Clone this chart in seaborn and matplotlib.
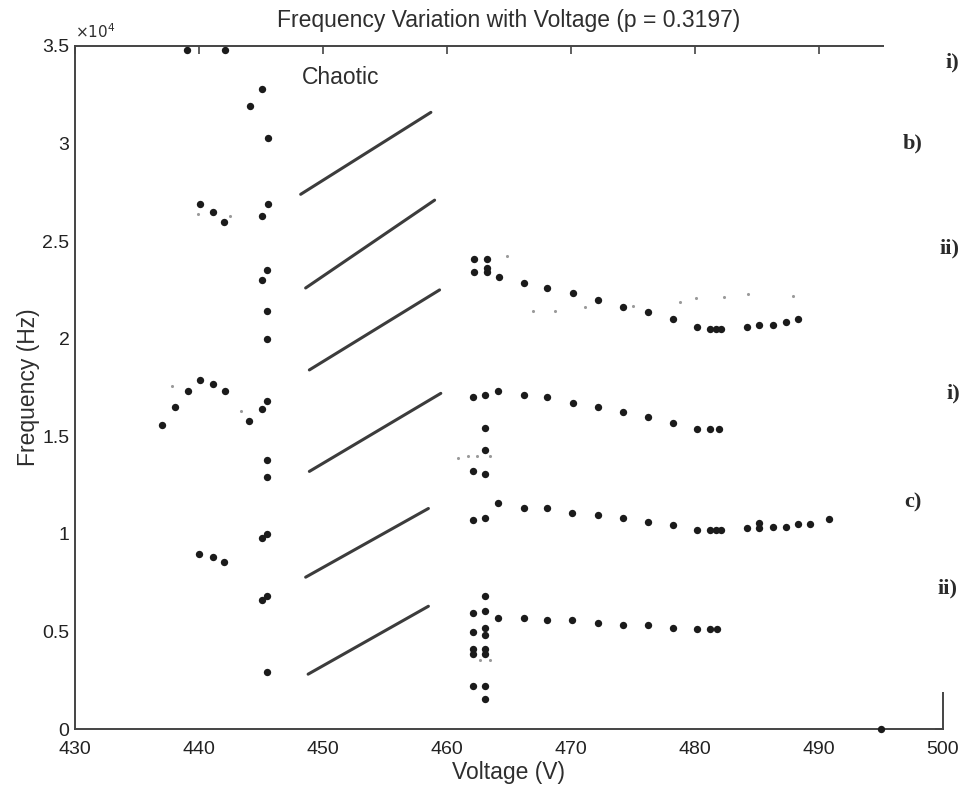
import matplotlib
matplotlib.use("Agg")
import matplotlib.pyplot as plt
from matplotlib.patches import Rectangle
import seaborn as sns
import pandas as pd

# ---- data ----
# main (large) dots: voltage (V), frequency (Hz)
volt_dots = [
    439.0, 442.1, 445.1, 444.1, 445.6,
    440.1, 441.1, 442.0, 445.6, 445.1,
    445.5, 445.1, 445.5, 445.5,
    437.0, 438.1, 439.1, 440.1, 441.1, 442.1,
    444.0, 445.1, 445.5, 445.5, 445.5,
    445.1, 445.5, 440.0, 441.1, 442.0,
    445.1, 445.5, 445.5,
    # upper branch after chaos
    462.2, 463.2, 462.2, 463.2, 463.2, 464.2, 466.2, 468.1, 470.2, 472.2,
    474.2, 476.2, 478.2, 480.2, 481.2, 481.7, 482.1, 484.2, 485.2, 486.3,
    487.3, 488.3,
    # second branch
    462.1, 463.1, 464.1, 466.2, 468.1, 470.2, 472.2, 474.2, 476.2, 478.2,
    480.2, 481.2, 481.9, 463.1, 463.1, 462.1, 463.1,
    # third branch
    462.1, 463.1, 464.1, 466.2, 468.1, 470.1, 472.2, 474.2, 476.2, 478.2,
    480.2, 481.2, 481.7, 482.1, 484.2, 485.2, 485.2, 486.3, 487.3, 488.3,
    489.3, 490.8,
    # lowest branch
    463.1, 462.1, 463.1, 464.1, 466.2, 468.1, 470.1, 472.2, 474.2, 476.2,
    478.2, 480.2, 481.2, 481.8, 462.1, 463.1, 463.1, 462.1, 462.1, 463.1,
    463.1, 462.1, 463.1, 463.1,
    495.0,
]
freq_dots = [
    34800, 34800, 32800, 31900, 30300,
    26900, 26500, 26000, 26900, 26300,
    23500, 23000, 21400, 20000,
    15600, 16500, 17300, 17900, 17700, 17300,
    15800, 16400, 16800, 13800, 12900,
    9800, 10000, 8960, 8800, 8560,
    6600, 6800, 2930,
    24100, 24100, 23400, 23600, 23400, 23150, 22850, 22600, 22360, 22000,
    21600, 21360, 21000, 20600, 20500, 20500, 20500, 20600, 20700, 20700,
    20850, 21000,
    17000, 17100, 17300, 17100, 17000, 16700, 16500, 16250, 16000, 15700,
    15350, 15350, 15350, 15400, 14300, 13200, 13050,
    10700, 10800, 11600, 11300, 11300, 11080, 10950, 10800, 10600, 10450,
    10200, 10200, 10200, 10200, 10300, 10550, 10300, 10350, 10350, 10500,
    10500, 10750,
    6800, 5950, 6060, 5700, 5700, 5580, 5580, 5450, 5330, 5330,
    5200, 5100, 5100, 5100, 4960, 5180, 4800, 4100, 3860, 4100,
    3860, 2200, 2200, 1560,
    0,
]

# faint small dots
volt_faint = [437.8, 439.9, 442.5, 443.4, 464.8, 466.9, 468.7, 471.1, 475.0,
              478.8, 480.1, 482.3, 484.3, 487.9, 460.9, 461.7, 462.4, 463.5,
              462.7, 463.5]
freq_faint = [17600, 26400, 26300, 16300, 24250, 21400, 21400, 21600, 21700,
              21900, 22100, 22150, 22300, 22200, 13900, 14000, 14000, 14000,
              3530, 3530]

# "chaotic" region segments
chaos_v0 = [448.2, 448.6, 448.9, 448.9, 448.6, 448.8]
chaos_v1 = [458.7, 459.0, 459.4, 459.5, 458.5, 458.5]
chaos_f0 = [27400, 22600, 18400, 13200, 7780, 2810]
chaos_f1 = [31600, 27100, 22500, 17200, 11300, 6290]

x_ticks = [430, 440, 450, 460, 470, 480, 490, 500]
y_ticks = [0, 5000, 10000, 15000, 20000, 25000, 30000, 35000]
y_labels = ["0", "0.5", "1", "1.5", "2", "2.5", "3", "3.5"]

# right-hand annotations (figure pixel positions)
notes = ["i)", "b)", "ii)", "i)", "c)", "ii)"]
notes_xy = [(952, 62), (913, 143), (950, 248), (953, 393), (913, 502), (948, 588)]

sns.set_theme(style="white")
plt.rcParams["font.family"] = ["Liberation Sans", "DejaVu Sans"]

W, H = 965, 786
fig = plt.figure(figsize=(W / 100, H / 100), dpi=100)
ax = fig.add_axes([75 / W, 1 - 729 / H, (943 - 75) / W, (729 - 46) / H])

ink = "#1b1b1b"
txt_col = "#2e2e2e"
dots = pd.DataFrame({"volt": volt_dots, "freq": freq_dots})
faint = pd.DataFrame({"volt": volt_faint, "freq": freq_faint})

sns.scatterplot(data=faint, x="volt", y="freq", ax=ax, s=5, color="#9a9a9a",
                linewidth=0, legend=False, clip_on=False)
sns.scatterplot(data=dots, x="volt", y="freq", ax=ax, s=28, color=ink,
                linewidth=0, legend=False, clip_on=False, zorder=3)

for v0, v1, f0, f1 in zip(chaos_v0, chaos_v1, chaos_f0, chaos_f1):
    ax.plot([v0, v1], [f0, f1], color="#3c3c3c", lw=2.2, solid_capstyle="round")

ax.text(448.3, 33400, "Chaotic", fontsize=16.5, color=txt_col, va="center")

ax.set_xlim(430, 500)
ax.set_ylim(0, 35000)
ax.set_xticks(x_ticks)
ax.set_xticklabels([str(t) for t in x_ticks])
ax.set_yticks(y_ticks)
ax.set_yticklabels(y_labels)
ax.tick_params(direction="in", length=6, width=1.2, color="#444444",
               labelsize=14, labelcolor="#222222", top=True, right=True)
ax.tick_params(axis="x", pad=9)
ax.tick_params(axis="y", pad=4)
for sp in ax.spines.values():
    sp.set_color("#444444")
    sp.set_linewidth(1.4)

ax.set_xlabel("Voltage (V)", fontsize=16.5, color=txt_col, labelpad=2)
ax.set_ylabel("Frequency (Hz)", fontsize=16.5, color=txt_col, labelpad=2)
ax.set_title("Frequency Variation with Voltage (p = 0.3197)", fontsize=16.5,
             color=txt_col, pad=14)
ax.text(0.0, 1.008, r"$\times10^{4}$", transform=ax.transAxes, fontsize=11,
        color=txt_col, va="bottom", ha="left")

# pasted-on white strip with the branch labels, as in the scan
fig.add_artist(Rectangle((884 / W, 1 - 692 / H), 1 - 884 / W, 692 / H,
                         transform=fig.transFigure, facecolor="white",
                         edgecolor="none", zorder=10))
for txt, (px, py) in zip(notes, notes_xy):
    fig.text(px / W, 1 - py / H, txt, ha="center", va="center", fontsize=16,
             family="Liberation Serif", fontweight="bold", color="#2a2a2a",
             zorder=11)

fig.savefig("out.png", dpi=100)
